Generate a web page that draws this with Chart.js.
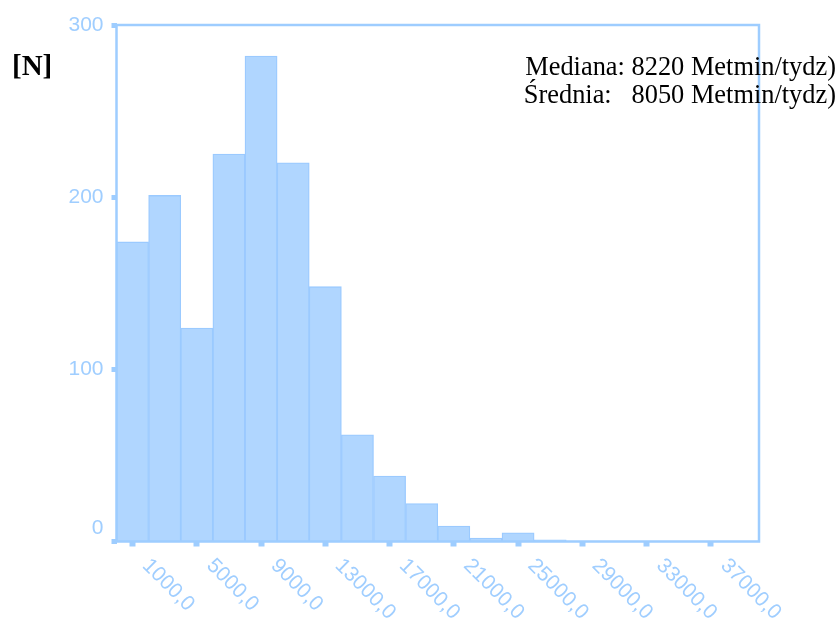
<!DOCTYPE html>
<html>
<head>
<meta charset="utf-8">
<script src="https://cdn.jsdelivr.net/npm/chart.js@4/dist/chart.umd.min.js"></script>
<style>
  html, body { margin: 0; padding: 0; background: #ffffff; }
  #wrap { width: 840px; height: 618px; position: relative; }
</style>
</head>
<body>
<div id="wrap"><canvas id="hist"></canvas></div>
<script>
// Histogram of weekly physical activity (MET-min/week), bins 2000 wide
const binCenters = [1000, 3000, 5000, 7000, 9000, 11000, 13000, 15000, 17000, 19000,
                    21000, 23000, 25000, 27000, 29000, 31000, 33000, 35000, 37000, 39000];
const counts = [174, 201, 124, 225, 282, 220, 148, 62, 38, 22,
                9, 2, 5, 1, 0, 0, 0, 0, 0, 0];
const xTickValues = [1000, 5000, 9000, 13000, 17000, 21000, 25000, 29000, 33000, 37000];
const xTickLabels = ['1000,0', '5000,0', '9000,0', '13000,0', '17000,0',
                     '21000,0', '25000,0', '29000,0', '33000,0', '37000,0'];
const yTickValues = [0, 100, 200, 300];
const yTickLabels = ['0', '100', '200', '300'];
const yAxisTitle = '[N]';
const statsLines = ['Mediana: 8220 Metmin/tydz)', 'Średnia:   8050 Metmin/tydz)'];

const AXIS_BLUE = 'rgb(158,205,255)';
const LABEL_BLUE = 'rgb(160,206,255)';
const TICK_FONT = '21px "Liberation Sans", Arial, sans-serif';

// frame around the plot area, custom tick labels and text annotations
const decorations = {
  id: 'decorations',
  afterDatasetsDraw(chart) {
    const { ctx, chartArea: a } = chart;
    ctx.save();
    ctx.strokeStyle = AXIS_BLUE;
    ctx.lineWidth = 2.5;
    ctx.strokeRect(a.left, a.top, a.right - a.left, a.bottom - a.top);
    ctx.restore();
  },
  afterDraw(chart) {
    const { ctx, chartArea: a, scales } = chart;
    ctx.save();
    ctx.fillStyle = LABEL_BLUE;
    ctx.font = TICK_FONT;

    // y labels
    ctx.textAlign = 'right';
    ctx.textBaseline = 'middle';
    yTickValues.forEach((v, i) => {
      let y = scales.y.getPixelForValue(v);
      if (v === 0) y -= 13;
      ctx.fillText(yTickLabels[i], a.left - 13, y);
    });

    // x labels, rotated 45 degrees clockwise, starting just right of the tick
    ctx.textAlign = 'left';
    ctx.textBaseline = 'middle';
    xTickValues.forEach((v, i) => {
      const x = scales.x.getPixelForValue(v);
      ctx.save();
      ctx.translate(x + 13, a.bottom + 21);
      ctx.rotate(Math.PI / 4);
      ctx.fillText(xTickLabels[i], 0, 0);
      ctx.restore();
    });

    // axis title
    ctx.fillStyle = '#000000';
    ctx.font = 'bold 29px "Liberation Serif", "Times New Roman", serif';
    ctx.textAlign = 'left';
    ctx.textBaseline = 'alphabetic';
    ctx.fillText(yAxisTitle, 12, 75);

    // statistics
    ctx.font = '26.4px "Liberation Serif", "Times New Roman", serif';
    ctx.textAlign = 'right';
    ctx.fillText(statsLines[0], 836, 75);
    ctx.fillText(statsLines[1], 836, 103);
    ctx.restore();
  }
};

new Chart(document.getElementById('hist'), {
  type: 'bar',
  data: {
    datasets: [{
      data: binCenters.map((c, i) => ({ x: c, y: counts[i] })),
      backgroundColor: 'rgb(176,214,255)',
      borderColor: 'rgb(155,202,255)',
      borderWidth: 1.3,
      borderSkipped: 'bottom',
      barPercentage: 1,
      categoryPercentage: 1
    }]
  },
  options: {
    responsive: true,
    maintainAspectRatio: false,
    animation: false,
    devicePixelRatio: 1,
    layout: { padding: { left: 0, right: 81, top: 25, bottom: 0 } },
    plugins: { legend: { display: false }, tooltip: { enabled: false } },
    scales: {
      x: {
        type: 'linear',
        min: 0,
        max: 40000,
        offset: false,
        grid: {
          offset: false,
          drawOnChartArea: false,
          drawTicks: true,
          tickLength: 5,
          tickWidth: 6,
          tickColor: AXIS_BLUE
        },
        border: { display: false },
        ticks: { display: false },
        afterBuildTicks(scale) {
          scale.ticks = xTickValues.map(v => ({ value: v }));
        },
        afterFit(scale) { scale.height = 76.5; }
      },
      y: {
        min: 0,
        max: 300,
        grid: {
          drawOnChartArea: false,
          drawTicks: true,
          tickLength: 5,
          tickWidth: 5,
          tickColor: AXIS_BLUE
        },
        border: { display: false },
        ticks: { display: false },
        afterBuildTicks(scale) {
          scale.ticks = yTickValues.map(v => ({ value: v }));
        },
        afterFit(scale) { scale.width = 116.5; }
      }
    }
  },
  plugins: [decorations]
});
</script>
</body>
</html>
